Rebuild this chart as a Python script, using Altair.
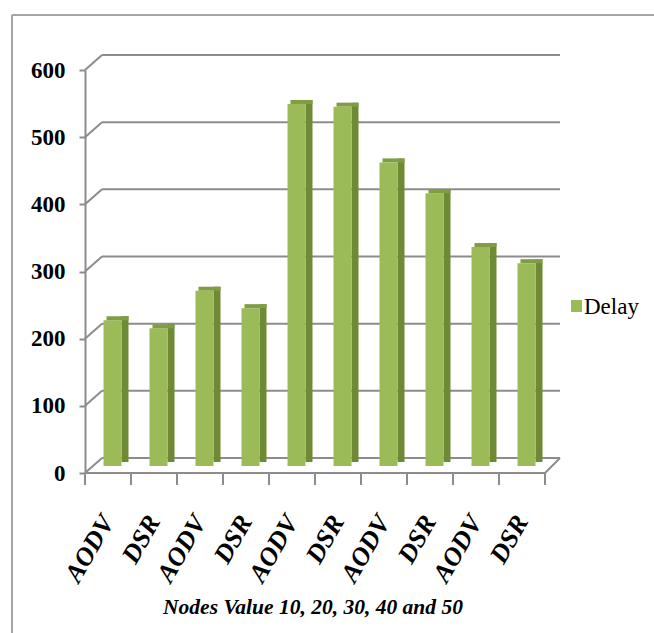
import altair as alt
import pandas as pd

categories = ["AODV", "DSR", "AODV", "DSR", "AODV", "DSR", "AODV", "DSR", "AODV", "DSR"]
delay = [217, 205, 261, 235, 539, 535, 452, 406, 326, 302]
y_ticks = [0, 100, 200, 300, 400, 500, 600]
x_title = "Nodes Value 10, 20, 30, 40 and 50"
legend_label = "Delay"

ids = [f"{c} {i + 1}" for i, c in enumerate(categories)]
df = pd.DataFrame({"id": ids, "delay": delay})
grid_df = pd.DataFrame({"v": y_ticks})
one = pd.DataFrame({"k": [0]})

W, H = 460, 403
FRONT = "#9bbb59"
SIDE = "#6f8a35"
TOP = "#7f9d42"
GRID = "#8c8c8c"
FRAME = "#a6a6a6"

xscale = alt.Scale(domain=ids, paddingInner=0, paddingOuter=0)
yscale = alt.Scale(domain=[0, 600], nice=False)

xaxis = alt.Axis(
    title=None, labelAngle=-60, labelAlign="right", labelBaseline="middle",
    labelFont="Liberation Serif", labelFontStyle="italic", labelFontWeight="bold",
    labelFontSize=26, labelColor="black", ticks=False, tickSize=0, domain=False,
    labelPadding=44, grid=False, labelExpr="split(datum.value, ' ')[0]",
)
yaxis = alt.Axis(
    title=None, values=y_ticks, tickSize=6, tickColor=GRID, tickWidth=2,
    domainColor=GRID, domainWidth=2, labelFont="Liberation Serif",
    labelFontWeight="bold", labelFontSize=23, labelColor="black",
    labelPadding=14, grid=False,
)

X = alt.X("id:N", scale=xscale, axis=xaxis, sort=ids)

# back wall gridlines
grid = alt.Chart(grid_df).mark_rule(color=GRID, strokeWidth=2, yOffset=-15).encode(
    y=alt.Y("v:Q", scale=yscale, axis=yaxis),
    x=alt.value(17), x2=alt.value(W + 15),
)
diag = alt.Chart(grid_df).mark_rule(color=GRID, strokeWidth=2, y2Offset=-15).encode(
    y=alt.Y("v:Q", scale=yscale, axis=yaxis), y2=alt.Y2("v"),
    x=alt.value(0), x2=alt.value(17),
)
floor_front = alt.Chart(one).mark_rule(color=GRID, strokeWidth=2).encode(
    x=alt.value(0), x2=alt.value(W), y=alt.value(H),
)
floor_right = alt.Chart(one).mark_rule(color=GRID, strokeWidth=2).encode(
    x=alt.value(W), x2=alt.value(W + 15), y=alt.value(H), y2=alt.value(H - 15),
)
xticks = alt.Chart(df).mark_rule(color=GRID, strokeWidth=2, xOffset=-W / 20).encode(
    x=X, y=alt.value(H), y2=alt.value(H + 12),
)
xtick_end = alt.Chart(one).mark_rule(color=GRID, strokeWidth=2).encode(
    x=alt.value(W), y=alt.value(H), y2=alt.value(H + 12),
)

side = alt.Chart(df).mark_bar(size=7, xOffset=17, yOffset=-11, y2Offset=-11, color=SIDE).encode(
    x=X, y=alt.Y("delay:Q", scale=yscale, axis=yaxis), y2=alt.datum(0),
)
front = alt.Chart(df).mark_bar(size=18, xOffset=4.5, yOffset=-7, y2Offset=-7, color=FRONT).encode(
    x=X, y=alt.Y("delay:Q", scale=yscale, axis=yaxis), y2=alt.datum(0),
)
top = alt.Chart(df).mark_bar(size=22, xOffset=9.5, yOffset=-11, y2Offset=-7, color=TOP).encode(
    x=X, y=alt.Y("delay:Q", scale=yscale, axis=yaxis), y2=alt.Y2("delay"),
)

legend_sq = alt.Chart(one).mark_rect(color=FRONT).encode(
    x=alt.value(486), x2=alt.value(497), y=alt.value(230), y2=alt.value(242),
)
legend_txt = alt.Chart(one).mark_text(
    text=legend_label, align="left", baseline="middle", font="Liberation Serif",
    fontSize=23, color="black",
).encode(x=alt.value(499), y=alt.value(237))

title_txt = alt.Chart(one).mark_text(
    text=x_title, align="center", baseline="middle", font="Liberation Serif",
    fontSize=21.5, fontStyle="italic", fontWeight="bold", color="black",
).encode(x=alt.value(228), y=alt.value(538))

frame_left = alt.Chart(one).mark_rule(color=FRAME, strokeWidth=2).encode(
    x=alt.value(-73), y=alt.value(-55), y2=alt.value(600),
)
frame_top = alt.Chart(one).mark_rule(color=FRAME, strokeWidth=2).encode(
    x=alt.value(-73), x2=alt.value(620), y=alt.value(-55),
)

chart = alt.layer(
    frame_left, frame_top, grid, diag, floor_front, floor_right, xticks, xtick_end,
    side, front, top, legend_sq, legend_txt, title_txt,
).properties(
    width=W, height=H,
    autosize=alt.AutoSizeParams(type="none"),
    padding={"left": 85, "top": 70, "right": 109, "bottom": 160},
    background="white",
).configure_view(stroke=None)

chart.save("out.html", embed_options={"renderer": "svg", "actions": False})
